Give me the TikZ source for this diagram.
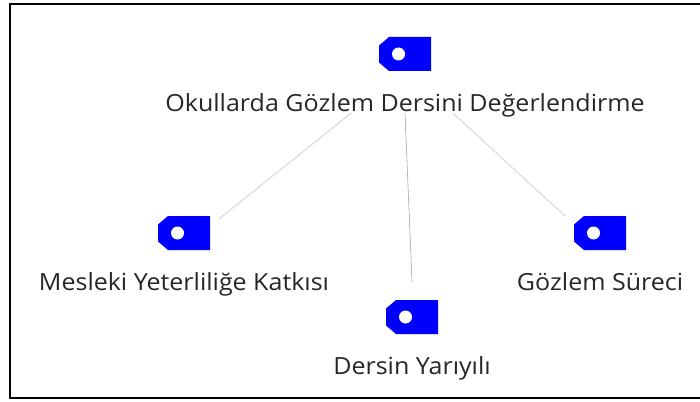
\documentclass[tikz,border=0pt]{standalone}
\usepackage{xcolor}
\usepackage{fontspec}
\setmainfont{Open Sans}[FakeStretch=1.06]
\definecolor{tagblue}{RGB}{0,0,255}

\begin{document}
\begin{tikzpicture}
[
  x=1pt,y=-1pt,
	tagbox/.style={minimum width=52pt,minimum height=34pt,inner sep=0pt,
		path picture={
			\fill[tagblue] ([xshift=10pt]path picture bounding box.north west)
				-- (path picture bounding box.north east)
				-- (path picture bounding box.south east)
				-- ([xshift=10pt]path picture bounding box.south west)
				-- ([yshift=8.5pt]path picture bounding box.south west)
				-- ([yshift=-8.5pt]path picture bounding box.north west) -- cycle;
			\fill[white] ([xshift=19.5pt]path picture bounding box.west) circle (6.5pt);
		}},
	lbl/.style={anchor=base,inner sep=0pt,text=black!85,font=\fontsize{23.6}{28}\selectfont,text height=18pt,text depth=2pt},
	link/.style={gray!45,line width=0.6pt}
]

\useasboundingbox (0,0) rectangle (700,401);

\draw[line width=2pt] (700,4) -- (10,4) -- (10,398) -- (700,398);

\node[tagbox] (tagRoot) at (405,54) {};
\node[lbl] (root) at (405,111) {Okullarda Gözlem Dersini Değerlendirme};

\node[tagbox] (tagKatki) at (184,233) {};
\node[lbl] (katki) at (184,290) {Mesleki Yeterliliğe Katkısı};

\node[tagbox] (tagYariyil) at (412,317) {};
\node[lbl] (yariyil) at (412,374) {Dersin Yarıyılı};

\node[tagbox] (tagSurec) at (600,233) {};
\node[lbl] (surec) at (600,290) {Gözlem Süreci};

\draw[link] ([xshift=-54pt]root.south) -- ([shift={(9pt,-3pt)}]tagKatki.north east);
\draw[link,gray!70] (root.south) -- ([yshift=18pt]tagYariyil.north);
\draw[link] ([xshift=48pt]root.south) -- ([shift={(-9pt,0pt)}]tagSurec.north west);
\end{tikzpicture}
\end{document}
